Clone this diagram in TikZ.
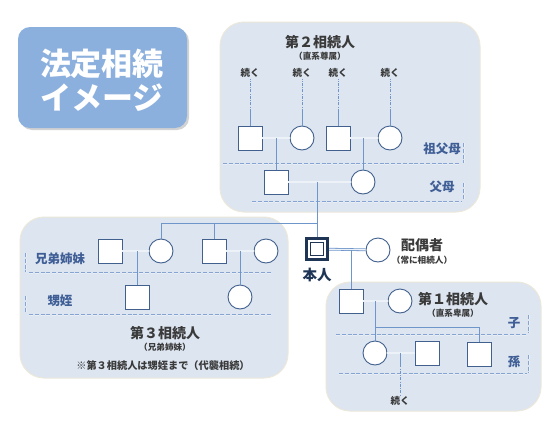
\documentclass[tikz,border=0pt]{standalone}
\usepackage{fontspec}
\setmainfont{Noto Sans CJK JP}
\usetikzlibrary{shadows}
\definecolor{panel}{HTML}{DCE5F0}
\definecolor{rim}{HTML}{ECE8DA}
\definecolor{shapec}{HTML}{41608E}
\definecolor{linkc}{HTML}{6F96CA}
\definecolor{genc}{HTML}{85A4D2}
\definecolor{levelc}{HTML}{3F5E96}
\definecolor{textc}{HTML}{3A3A3A}
\definecolor{meclr}{HTML}{1E3556}
\definecolor{titlebg}{HTML}{8CB0DE}
\tikzset{
  panelbox/.style={fill=panel, draw=rim, line width=1pt, rounded corners=24pt},
  male/.style={draw=shapec, fill=white, line width=0.9pt, minimum size=24pt, inner sep=0pt},
  female/.style={circle, draw=shapec, fill=white, line width=0.9pt, minimum size=24pt, inner sep=0pt},
  link/.style={draw=linkc, line width=0.9pt},
  marriage/.style={draw=linkc, line width=0.8pt, double=white!50!panel, double distance=1.1pt},
  gen/.style={draw=genc, line width=0.7pt, double=white!40!panel, double distance=0.6pt, dash pattern=on 4pt off 1.8pt},
  contd/.style={draw=linkc, line width=0.6pt, dash pattern=on 3pt off 1.5pt on 0.6pt off 1.5pt},
  heading/.style={text=textc, font=\fontsize{14}{16}\selectfont\bfseries, inner sep=1pt},
  subhead/.style={text=textc, font=\fontsize{8.6}{10}\selectfont\bfseries, inner sep=1pt},
  level/.style={text=levelc, font=\fontsize{12.5}{14}\selectfont\bfseries, inner sep=1pt},
  goon/.style={text=textc, font=\fontsize{9.5}{11}\selectfont\bfseries, inner sep=1pt}
}
\begin{document}
\begin{tikzpicture}[x=1pt,y=-1pt]
\useasboundingbox (0,0) rectangle (558,429);
% panels
\fill[white] (0,0) rectangle (558,429);
\draw[panelbox] (220,22) rectangle (480,212);
\draw[panelbox] (20,217) rectangle (288,378);
\draw[panelbox] (326,282) rectangle (541,411);
\fill[titlebg, rounded corners=12pt, drop shadow={opacity=0.35, shadow xshift=2pt, shadow yshift=-2pt}] (18,27) rectangle (187,128);
\node[text=white, font=\fontsize{31}{34}\selectfont\bfseries, align=center] (title) at (102,80) {法定相続\\イメージ};

% generation lines
\draw[gen] (223,164) -- (460,164);
\draw[gen] (464,143) -- (464,163);
\draw[gen] (252,202) -- (462,202);
\draw[gen] (464,183) -- (464,199);
\draw[gen] (29,273) -- (272,273);
\draw[gen] (26,253) -- (26,272);
\draw[gen] (29,315) -- (272,315);
\draw[gen] (26,296) -- (26,313);
\draw[gen] (336,335) -- (527,335);
\draw[gen] (529,315) -- (529,333);
\draw[gen] (339,374) -- (527,374);
\draw[gen] (529,355) -- (529,373);

% texts
\node[heading] (h2) at (320,42) {第２相続人};
\node[subhead] (h2s) at (320,56) {（直系尊属）};
\node[heading] (h3) at (165,333) {第３相続人};
\node[subhead] (h3s) at (165,347) {（兄弟姉妹）};
\node[text=textc, font=\fontsize{10.2}{12}\selectfont\bfseries] (h3n) at (163,366) {※第３相続人は甥姪まで（代襲相続）};
\node[heading] (h1) at (453,299) {第１相続人};
\node[subhead] (h1s) at (453,313) {（直系卑属）};
\node[heading] (sph) at (422,245) {配偶者};
\node[subhead] (sps) at (422,260) {（常に相続人）};
\node[level] (lv1) at (442,149) {祖父母};
\node[level] (lv2) at (442,187) {父母};
\node[level] (lv3) at (60,259) {兄弟姉妹};
\node[level] (lv4) at (60,301) {甥姪};
\node[level] (lv5) at (514,323) {子};
\node[level] (lv6) at (514,362) {孫};
\node[goon] (k1) at (250,73) {続く};
\node[goon] (k2) at (302,73) {続く};
\node[goon] (k3) at (338,73) {続く};
\node[goon] (k4) at (390,73) {続く};
\node[goon] (k5) at (400,401) {続く};

% people
\node[male] (gf1) at (250,138) {};
\node[female] (gm1) at (302,138) {};
\node[male] (gf2) at (338,138) {};
\node[female] (gm2) at (390,138) {};
\node[male] (fa) at (276,182) {};
\node[female] (mo) at (363,182) {};
\node[draw=meclr, fill=white, line width=2.8pt, minimum size=21.5pt, inner sep=0pt] (me) at (317,249) {};
\node[draw=meclr, fill=white, line width=1.2pt, minimum size=13pt, inner sep=0pt] (meinner) at (317,249) {};
\node[text=meclr, font=\fontsize{14.5}{16}\selectfont\bfseries] (mename) at (317,275) {本人};
\node[female] (sp) at (378,250) {};
\node[male] (sish) at (110,251) {};
\node[female] (sis) at (161,251) {};
\node[male] (bro) at (214,251) {};
\node[female] (brow) at (266,251) {};
\node[male] (neph) at (137,297) {};
\node[female] (niec) at (240,297) {};
\node[male] (son) at (351,301) {};
\node[female] (sonw) at (400,301) {};
\node[female] (gd) at (375,353) {};
\node[male] (gdh) at (427,353) {};
\node[male] (gs) at (479,354) {};

% continuation lines
\coordinate (t1) at (250,112);
\coordinate (t2) at (302,112);
\coordinate (t3) at (338,112);
\coordinate (t4) at (390,112);
\draw[link] (gf1) -- (t1);
\draw[link] (gm1) -- (t2);
\draw[link] (gf2) -- (t3);
\draw[link] (gm2) -- (t4);
\draw[contd] (t1) -- (k1);
\draw[contd] (t2) -- (k2);
\draw[contd] (t3) -- (k3);
\draw[contd] (t4) -- (k4);

% couples and children
\coordinate (gp1) at (276,138);
\coordinate (gp2) at (363,138);
\coordinate (pm) at (317,182);
\coordinate (sib) at (317,223);
\coordinate (ms) at (351,250);
\coordinate (c1) at (137,251);
\coordinate (c2) at (240,251);
\coordinate (cs) at (375,301);
\coordinate (gsb) at (375,327);
\coordinate (cg) at (400,353);
\coordinate (t5) at (400,364);
\draw[marriage] (gf1) -- (gm1);
\draw[marriage] (gf2) -- (gm2);
\draw[link] (gp1) -- (fa);
\draw[link] (gp2) -- (mo);
\draw[marriage] (fa) -- (mo);
\draw[link] (pm) -- (me);
\draw[link] (sib) -| (sis);
\draw[link] (bro |- sib) -- (bro);
\draw[marriage] (sish) -- (sis);
\draw[marriage] (bro) -- (brow);
\draw[link] (c1) -- (neph);
\draw[link] (c2) -- (niec);
\draw[marriage] (me) -- (sp);
\draw[link] (ms) -- (son);
\draw[marriage] (son) -- (sonw);
\draw[link] (cs) -- (gd);
\draw[link] (gsb) -| (gs);
\draw[marriage] (gd) -- (gdh);
\draw[link] (cg) -- (t5);
\draw[contd] (t5) -- (k5);
\end{tikzpicture}
\end{document}
